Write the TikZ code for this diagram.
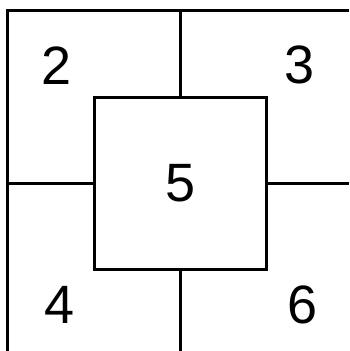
\documentclass[tikz,border=0pt]{standalone}
\usepackage{fontspec}
\setmainfont{Liberation Sans}
\usepackage{tikz}

\tikzset{
    num/.style={font=\fontsize{54}{60}\selectfont, inner sep=0pt},
    centrebox/.style={draw, line width=3pt, minimum size=171.5pt, inner sep=0pt, num}
}

\begin{document}
\begin{tikzpicture}[x=1pt, y=-1pt, line width=3pt]
            \useasboundingbox (0,0) rectangle (349,351);
            \draw (7.5,351) -- (7.5,10.5) -- (349,10.5);
            \node[centrebox] (mid) at (180.25,183.6) {5};
            \coordinate (topend) at (180.25,10.5);
            \coordinate (botend) at (180.25,351);
            \coordinate (leftend) at (7.5,183.6);
            \coordinate (rightend) at (349,183.6);
            \draw (topend) -- (mid.north);
            \draw (mid.south) -- (botend);
            \draw (leftend) -- (mid.west);
            \draw (mid.east) -- (rightend);
            \node[num] (two) at (57,66) {2};
            \node[num] (three) at (300,65) {3};
            \node[num] (four) at (60,305) {4};
            \node[num] (six) at (303,305) {6};
        \end{tikzpicture}
\end{document}
